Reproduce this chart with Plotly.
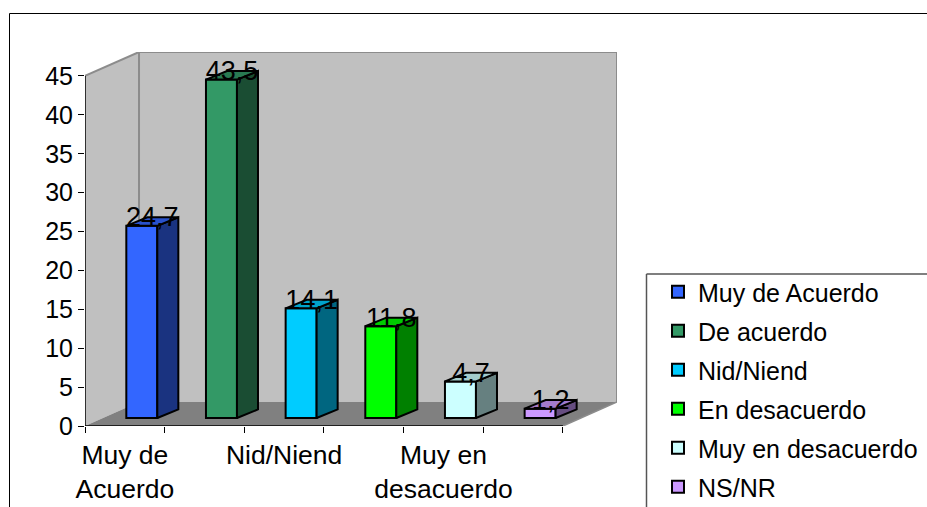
import plotly.graph_objects as go

categories = ["Muy de Acuerdo", "De acuerdo", "Nid/Niend", "En desacuerdo", "Muy en desacuerdo", "NS/NR"]
values = [24.7, 43.5, 14.1, 11.8, 4.7, 1.2]
front_colors = ["#3366FF", "#339966", "#00CCFF", "#00FF00", "#CCFFFF", "#CC99FF"]
side_colors = ["#1A3380", "#1A4D33", "#006680", "#008000", "#668080", "#664D80"]
top_colors = ["#2952CC", "#297A52", "#00A3CC", "#00CC00", "#A3CCCC", "#A37ACC"]
x_tick_positions = [0.5, 2.5, 4.5]
x_tick_labels = ["Muy de<br>Acuerdo", "Nid/Niend", "Muy en<br>desacuerdo"]
y_ticks = [0, 5, 10, 15, 20, 25, 30, 35, 40, 45]

W, H = 927, 507
FONT = "Liberation Sans"
# Plot area in page pixels
PL, PR, PT, PB = 85, 617, 52, 426


def px(x):
    return (x - PL) / (PR - PL)


def py(y):
    return (PB - y) / (PB - PT)


# Oblique projection of the box, in axis units
WALL_DX, WALL_DY = 0.678, 3.08
BAR_DX, BAR_DY = 0.264, 1.1
BAR_W = 0.389
BAR_SHIFT = 0.213
BAR_BASE = 1.03
LABEL_DROP = 0.3
YTOP = 45
N = len(categories)
EDGE_W = 2

fig = go.Figure()
centers = [i + 0.5 + BAR_SHIFT for i in range(N)]

# Front faces
for i, v in enumerate(values):
    fig.add_trace(go.Bar(
        x=[centers[i]], y=[v], base=[BAR_BASE], width=[BAR_W], name=categories[i],
        legendgroup=categories[i],
        marker=dict(color=front_colors[i], line=dict(color="black", width=EDGE_W)),
        hoverinfo="skip",
    ))

# Side and top faces
for i, v in enumerate(values):
    l, r = centers[i] - BAR_W / 2, centers[i] + BAR_W / 2
    b, t = BAR_BASE, BAR_BASE + v
    fig.add_trace(go.Scatter(
        x=[r, r + BAR_DX, r + BAR_DX, r, r], y=[b, b + BAR_DY, t + BAR_DY, t, b],
        mode="lines", fill="toself", fillcolor=side_colors[i],
        line=dict(color="black", width=EDGE_W), showlegend=False, hoverinfo="skip",
    ))
    fig.add_trace(go.Scatter(
        x=[l, r, r + BAR_DX, l + BAR_DX, l], y=[t, t, t + BAR_DY, t + BAR_DY, t],
        mode="lines", fill="toself", fillcolor=top_colors[i],
        line=dict(color="black", width=EDGE_W), showlegend=False, hoverinfo="skip",
    ))

# Value labels
fig.add_trace(go.Scatter(
    x=[c + BAR_DX / 2 for c in centers],
    y=[BAR_BASE + v + BAR_DY - LABEL_DROP for v in values],
    mode="text", text=[f"{v:.1f}".replace(".", ",") for v in values],
    textposition="middle center", textfont=dict(family=FONT, size=27, color="black"),
    cliponaxis=False, showlegend=False, hoverinfo="skip",
))


def poly(pts):
    return "M" + "L".join(f"{x},{y}" for x, y in pts) + "Z"


WALL = "#C0C0C0"
EDGE = "#8C8C8C"
FRAME = dict(color="black", width=1)
LEGBOX = dict(color="#555555", width=1.5)
shapes = [
    # left wall
    dict(type="path", xref="x", yref="y", layer="below", fillcolor=WALL, line=dict(width=0),
         path=poly([(0, 0), (0, YTOP), (WALL_DX, YTOP + WALL_DY), (WALL_DX, WALL_DY)])),
    # back wall
    dict(type="path", xref="x", yref="y", layer="below", fillcolor=WALL, line=dict(width=0),
         path=poly([(WALL_DX, WALL_DY), (WALL_DX, YTOP + WALL_DY), (N + WALL_DX, YTOP + WALL_DY), (N + WALL_DX, WALL_DY)])),
    # floor
    dict(type="path", xref="x", yref="y", layer="below", fillcolor="#808080", line=dict(width=0),
         path=poly([(0, 0), (N, 0), (N + WALL_DX, WALL_DY), (WALL_DX, WALL_DY)])),
    # wall edges
    dict(type="line", xref="x", yref="y", layer="below", line=dict(color=EDGE, width=2),
         x0=0, y0=YTOP, x1=WALL_DX, y1=YTOP + WALL_DY),
    dict(type="line", xref="x", yref="y", layer="below", line=dict(color=EDGE, width=2),
         x0=WALL_DX, y0=YTOP + WALL_DY, x1=N + WALL_DX, y1=YTOP + WALL_DY),
    dict(type="line", xref="x", yref="y", layer="below", line=dict(color=EDGE, width=2),
         x0=WALL_DX, y0=WALL_DY, x1=WALL_DX, y1=YTOP + WALL_DY),
    dict(type="line", xref="x", yref="y", layer="below", line=dict(color=EDGE, width=2),
         x0=N + WALL_DX, y0=WALL_DY, x1=N + WALL_DX, y1=YTOP + WALL_DY),
    dict(type="line", xref="x", yref="y", layer="below", line=dict(color=EDGE, width=1.5),
         x0=N, y0=0, x1=N + WALL_DX, y1=WALL_DY),
    # axis lines
    dict(type="line", xref="x", yref="y", line=dict(color="black", width=1.5), x0=0, y0=0, x1=0, y1=YTOP),
    dict(type="line", xref="x", yref="y", line=dict(color="black", width=1.5), x0=0, y0=0, x1=N, y1=0),
    # outer frame
    dict(type="line", xref="paper", yref="paper", line=FRAME, x0=px(9.5), y0=py(13.5), x1=px(W), y1=py(13.5)),
    dict(type="line", xref="paper", yref="paper", line=FRAME, x0=px(9.5), y0=py(13.5), x1=px(9.5), y1=py(H)),
    # legend box
    dict(type="line", xref="paper", yref="paper", line=LEGBOX, x0=px(646.5), y0=py(274), x1=px(W), y1=py(274)),
    dict(type="line", xref="paper", yref="paper", line=LEGBOX, x0=px(646.5), y0=py(274), x1=px(646.5), y1=py(H)),
]

fig.update_layout(
    width=W, height=H, autosize=False,
    paper_bgcolor="white", plot_bgcolor="rgba(0,0,0,0)",
    margin=dict(l=PL, r=W - PR, t=PT, b=H - PB, pad=0, autoexpand=False),
    font=dict(family=FONT, size=25, color="black"),
    shapes=shapes, barmode="overlay",
    xaxis=dict(
        range=[0, N + WALL_DX], showgrid=False, zeroline=False, showline=False,
        tickmode="array", tickvals=x_tick_positions, ticktext=x_tick_labels, ticks="",
        ticklabelstandoff=10, tickfont=dict(size=26.5),
        minor=dict(tickmode="array", tickvals=list(range(N + 1)), ticks="outside", ticklen=6,
                   tickwidth=1, tickcolor="black", showgrid=False),
    ),
    yaxis=dict(
        range=[0, YTOP + WALL_DY], showgrid=False, zeroline=False, showline=False,
        tickmode="array", tickvals=y_ticks, ticks="outside", ticklen=6, tickwidth=1, tickcolor="black",
    ),
    legend=dict(
        x=px(658), xanchor="left", y=py(269), yanchor="top",
        bgcolor="rgba(0,0,0,0)", borderwidth=0, traceorder="grouped",
        tracegroupgap=3.5, font=dict(family=FONT, size=25, color="black"),
    ),
)

fig.write_html("out.html", config={"displayModeBar": False},
               post_script="document.body.style.margin='0';document.body.style.overflow='hidden';")
